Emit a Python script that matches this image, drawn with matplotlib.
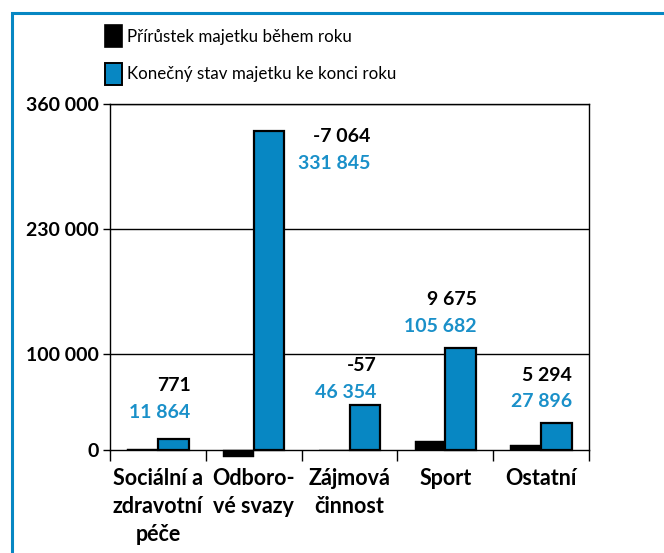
import matplotlib
matplotlib.use("Agg")
import matplotlib.pyplot as plt
from matplotlib.patches import Rectangle
import numpy as np

categories = ["Sociální a\nzdravotní\npéče", "Odboro-\nvé svazy", "Zájmová\nčinnost", "Sport", "Ostatní"]
increase = [771, -7064, -57, 9675, 5294]
final_state = [11864, 331845, 46354, 105682, 27896]
series_names = ["Přírůstek majetku během roku", "Konečný stav majetku ke konci roku"]
y_ticks = [0, 100000, 230000, 360000]
y_tick_labels = ["0", "100 000", "230 000", "360 000"]
inc_labels = ["771", "-7 064", "-57", "9 675", "5 294"]
fin_labels = ["11 864", "331 845", "46 354", "105 682", "27 896"]

# layout: label anchor (x offset from category centre, y of upper/lower label in data units)
label_x_off = [0.34, 1.22, 0.28, 0.33, 0.32]
label_y_top = [67600, 326700, 88400, 157000, 77000]
label_y_bot = [39500, 298600, 60300, 128000, 50000]

BLUE = "#0787c3"
LBLUE = "#1a90c9"
FONT = ["Lato", "DejaVu Sans"]
plt.rcParams["font.family"] = FONT

fig = plt.figure(figsize=(6.64, 5.53), dpi=100)
ax = fig.add_axes([110/664, 1-450/553, (589-110)/664, (450-104)/553])

x = np.arange(len(categories))
w = 0.32
ax.bar(x - w/2, increase, width=w, color="black", edgecolor="black", linewidth=0.3, clip_on=False, zorder=3)
ax.bar(x + w/2, final_state, width=w, color=BLUE, edgecolor="black", linewidth=1.6, clip_on=False, zorder=3)

ax.set_ylim(0, 360000)
ax.set_xlim(-0.5, len(categories) - 0.5)
ax.set_yticks(y_ticks)
ax.set_yticklabels(y_tick_labels)
for lab in ax.get_yticklabels():
    lab.set_fontweight("bold")
    lab.set_fontsize(14)
for yv in y_ticks[1:]:
    ax.axhline(yv, color="black", linewidth=1.0, zorder=1)

ax.set_xticks(np.arange(len(categories) + 1) - 0.5)
ax.set_xticklabels([])
ax.tick_params(axis="x", length=8, width=1, direction="out")
ax.tick_params(axis="y", length=5, width=1, direction="out", pad=3)
for s in ax.spines.values():
    s.set_linewidth(1.0)

for i, c in enumerate(categories):
    ax.text(i, -19000, c, ha="center", va="top", fontsize=15.5, fontweight="bold",
            linespacing=1.4, transform=ax.transData)

for i in range(len(categories)):
    ax.text(i + label_x_off[i], label_y_top[i], inc_labels[i], ha="right", va="center",
            fontsize=14, fontweight="bold", color="black", zorder=5)
    ax.text(i + label_x_off[i], label_y_bot[i], fin_labels[i], ha="right", va="center",
            fontsize=14, fontweight="bold", color=LBLUE, zorder=5)

# legend
fig.patches.append(Rectangle((105/664, 1-47/553), 17/664, 22/553, transform=fig.transFigure,
                             facecolor="black", edgecolor="black", linewidth=1.2))
fig.patches.append(Rectangle((105/664, 1-85/553), 17/664, 22/553, transform=fig.transFigure,
                             facecolor=BLUE, edgecolor="black", linewidth=1.4))
fig.text(127/664, 1-37/553, series_names[0], ha="left", va="center", fontsize=12.2)
fig.text(127/664, 1-74/553, series_names[1], ha="left", va="center", fontsize=12.2)

# outer frame
fig.patches.append(Rectangle((12/664, -0.1), 1.1, 1 - 13/553 + 0.1, transform=fig.transFigure,
                             facecolor="none", edgecolor=BLUE, linewidth=2.2))

fig.savefig("out.png", dpi=100)
